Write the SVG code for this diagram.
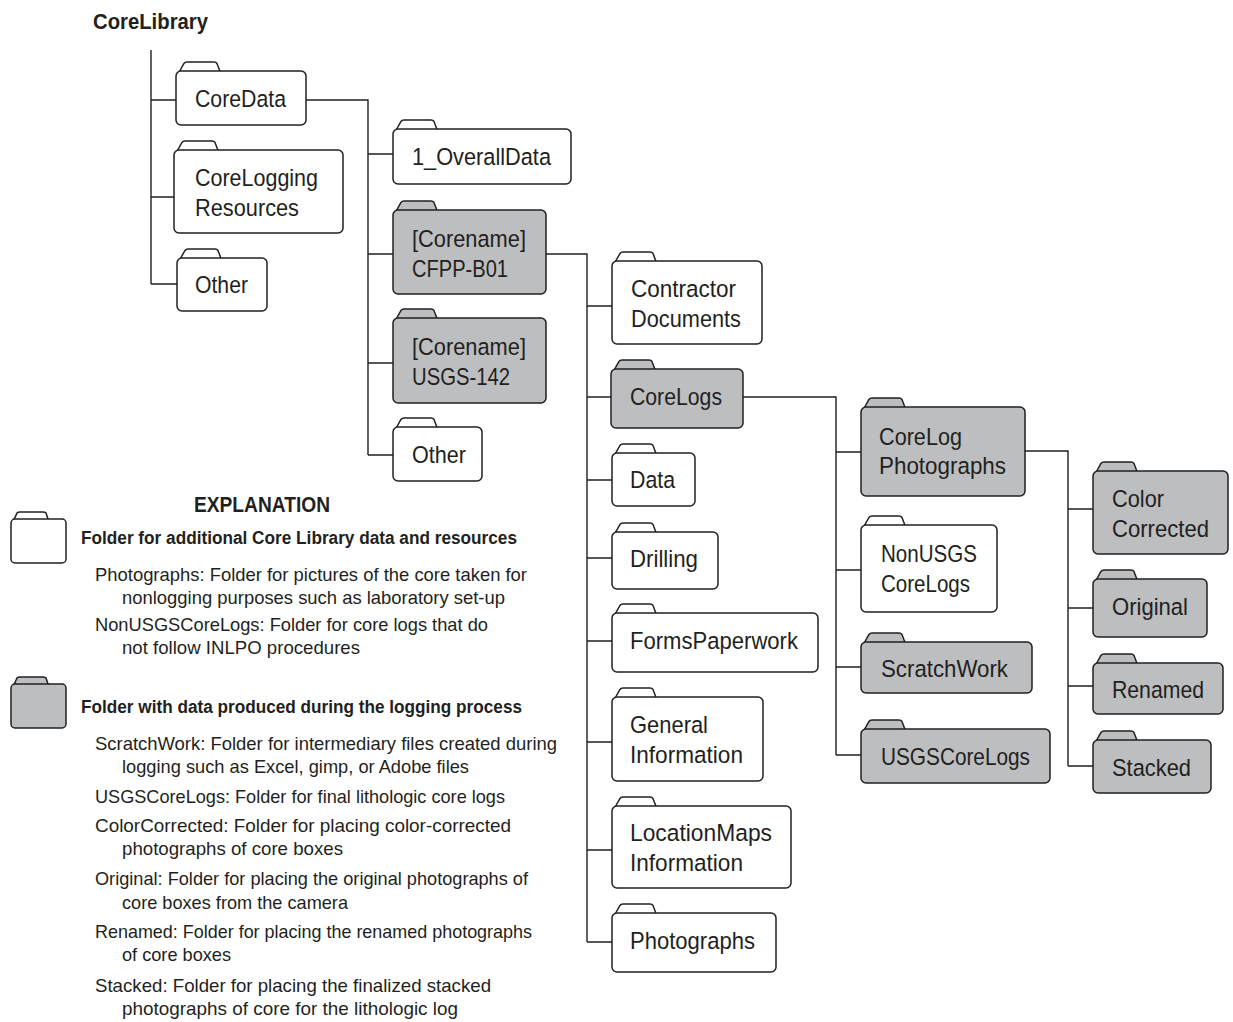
<svg xmlns="http://www.w3.org/2000/svg" xmlns:xlink="http://www.w3.org/1999/xlink" width="1233" height="1022" viewBox="0 0 1233 1022">
  <style>
    .w { fill: #ffffff; stroke: #231f20; stroke-width: 1.5; }
    .g { fill: #bcbec0; stroke: #231f20; stroke-width: 1.5; }
    .lbl { font-family: "Liberation Sans", Arial, sans-serif; font-size: 24.5px; fill: #231f20; }
    .leg { font-family: "Liberation Sans", Arial, sans-serif; font-size: 18.5px; fill: #231f20; }
    .legb { font-family: "Liberation Sans", Arial, sans-serif; font-size: 18px; font-weight: bold; fill: #231f20; }
    .ttl { font-family: "Liberation Sans", Arial, sans-serif; font-size: 22px; font-weight: bold; fill: #231f20; }
    .conn { fill: none; stroke: #231f20; stroke-width: 1.4; }
  </style>
  <defs>
    <!-- folder tab, drawn behind the folder body -->
    <path id="tab" d="M2,3 L8,-7.5 Q9,-9 11,-9 L38,-9 Q40,-9 41,-7.5 L45,3 Z"/>
    <path id="tabS" d="M2,3 L6,-6 Q7,-7 9,-7 L32,-7 Q34,-7 35,-6 L38,3 Z"/>
  </defs>

  <rect x="0" y="0" width="1233" height="1022" fill="#ffffff"/>

  <text class="ttl" x="93" y="29" textLength="115" lengthAdjust="spacingAndGlyphs">CoreLibrary</text>

  <!-- connectors -->
  <g id="connectors" class="conn">
    <path d="M151,50 V284 M151,100 H176 M151,197 H174 M151,284 H177"/>
    <path d="M306,100 H368 V455 M368,154 H393 M368,254 H393 M368,363 H393 M368,455 H393"/>
    <path d="M546,254 H587 V942 M587,306 H612 M587,397 H611 M587,480 H612 M587,558 H612 M587,641 H612 M587,742 H612 M587,850 H612 M587,942 H612"/>
    <path d="M743,397 H836 V755 M836,452 H861 M836,570 H861 M836,667 H861 M836,755 H861"/>
    <path d="M1025,451 H1068 V766 M1068,509 H1093 M1068,608 H1093 M1068,686 H1093 M1068,766 H1093"/>
  </g>

  <!-- level 1 -->
  <g id="n-coredata">
    <use href="#tab" class="w" x="176" y="71"/>
    <rect class="w" x="176" y="71" width="130" height="54" rx="5"/>
    <text class="lbl" x="195" y="107" textLength="91" lengthAdjust="spacingAndGlyphs">CoreData</text>
  </g>
  <g id="n-coreloggingresources">
    <use href="#tab" class="w" x="174" y="150"/>
    <rect class="w" x="174" y="150" width="169" height="83" rx="5"/>
    <text class="lbl" x="195" y="186" textLength="123" lengthAdjust="spacingAndGlyphs">CoreLogging</text>
    <text class="lbl" x="195" y="216" textLength="104" lengthAdjust="spacingAndGlyphs">Resources</text>
  </g>
  <g id="n-other1">
    <use href="#tab" class="w" x="177" y="258"/>
    <rect class="w" x="177" y="258" width="90" height="53" rx="5"/>
    <text class="lbl" x="195" y="293" textLength="53" lengthAdjust="spacingAndGlyphs">Other</text>
  </g>

  <!-- level 2 -->
  <g id="n-overalldata">
    <use href="#tab" class="w" x="393" y="129"/>
    <rect class="w" x="393" y="129" width="178" height="55" rx="5"/>
    <text class="lbl" x="412" y="165" textLength="139" lengthAdjust="spacingAndGlyphs">1_OverallData</text>
  </g>
  <g id="n-cfpp">
    <use href="#tab" class="g" x="393" y="210"/>
    <rect class="g" x="393" y="210" width="153" height="84" rx="5"/>
    <text class="lbl" x="412" y="247" textLength="114" lengthAdjust="spacingAndGlyphs">[Corename]</text>
    <text class="lbl" x="412" y="277" textLength="96" lengthAdjust="spacingAndGlyphs">CFPP-B01</text>
  </g>
  <g id="n-usgs142">
    <use href="#tab" class="g" x="393" y="318"/>
    <rect class="g" x="393" y="318" width="153" height="85" rx="5"/>
    <text class="lbl" x="412" y="355" textLength="114" lengthAdjust="spacingAndGlyphs">[Corename]</text>
    <text class="lbl" x="412" y="385" textLength="98" lengthAdjust="spacingAndGlyphs">USGS-142</text>
  </g>
  <g id="n-other2">
    <use href="#tab" class="w" x="393" y="427"/>
    <rect class="w" x="393" y="427" width="89" height="54" rx="5"/>
    <text class="lbl" x="412" y="463" textLength="54" lengthAdjust="spacingAndGlyphs">Other</text>
  </g>

  <!-- level 3 -->
  <g id="n-contractor">
    <use href="#tab" class="w" x="612" y="261"/>
    <rect class="w" x="612" y="261" width="150" height="83" rx="5"/>
    <text class="lbl" x="631" y="297" textLength="105" lengthAdjust="spacingAndGlyphs">Contractor</text>
    <text class="lbl" x="631" y="327" textLength="110" lengthAdjust="spacingAndGlyphs">Documents</text>
  </g>
  <g id="n-corelogs">
    <use href="#tab" class="g" x="611" y="369"/>
    <rect class="g" x="611" y="369" width="132" height="59" rx="5"/>
    <text class="lbl" x="630" y="405" textLength="92" lengthAdjust="spacingAndGlyphs">CoreLogs</text>
  </g>
  <g id="n-data">
    <use href="#tab" class="w" x="612" y="453"/>
    <rect class="w" x="612" y="453" width="83" height="53" rx="5"/>
    <text class="lbl" x="630" y="488" textLength="45" lengthAdjust="spacingAndGlyphs">Data</text>
  </g>
  <g id="n-drilling">
    <use href="#tab" class="w" x="612" y="532"/>
    <rect class="w" x="612" y="532" width="106" height="57" rx="5"/>
    <text class="lbl" x="630" y="567" textLength="68" lengthAdjust="spacingAndGlyphs">Drilling</text>
  </g>
  <g id="n-formspaperwork">
    <use href="#tab" class="w" x="612" y="613"/>
    <rect class="w" x="612" y="613" width="206" height="59" rx="5"/>
    <text class="lbl" x="630" y="649" textLength="168" lengthAdjust="spacingAndGlyphs">FormsPaperwork</text>
  </g>
  <g id="n-generalinformation">
    <use href="#tab" class="w" x="612" y="697"/>
    <rect class="w" x="612" y="697" width="151" height="84" rx="5"/>
    <text class="lbl" x="630" y="733" textLength="78" lengthAdjust="spacingAndGlyphs">General</text>
    <text class="lbl" x="630" y="763" textLength="113" lengthAdjust="spacingAndGlyphs">Information</text>
  </g>
  <g id="n-locationmaps">
    <use href="#tab" class="w" x="612" y="806"/>
    <rect class="w" x="612" y="806" width="179" height="82" rx="5"/>
    <text class="lbl" x="630" y="841" textLength="142" lengthAdjust="spacingAndGlyphs">LocationMaps</text>
    <text class="lbl" x="630" y="871" textLength="113" lengthAdjust="spacingAndGlyphs">Information</text>
  </g>
  <g id="n-photographs">
    <use href="#tab" class="w" x="612" y="913"/>
    <rect class="w" x="612" y="913" width="164" height="59" rx="5"/>
    <text class="lbl" x="630" y="949" textLength="125" lengthAdjust="spacingAndGlyphs">Photographs</text>
  </g>

  <!-- level 4 -->
  <g id="n-corelogphotographs">
    <use href="#tab" class="g" x="861" y="407"/>
    <rect class="g" x="861" y="407" width="164" height="89" rx="5"/>
    <text class="lbl" x="879" y="445" textLength="83" lengthAdjust="spacingAndGlyphs">CoreLog</text>
    <text class="lbl" x="879" y="474" textLength="127" lengthAdjust="spacingAndGlyphs">Photographs</text>
  </g>
  <g id="n-nonusgscorelogs">
    <use href="#tab" class="w" x="861" y="525"/>
    <rect class="w" x="861" y="525" width="136" height="87" rx="5"/>
    <text class="lbl" x="881" y="562" textLength="96" lengthAdjust="spacingAndGlyphs">NonUSGS</text>
    <text class="lbl" x="881" y="592" textLength="89" lengthAdjust="spacingAndGlyphs">CoreLogs</text>
  </g>
  <g id="n-scratchwork">
    <use href="#tab" class="g" x="861" y="642"/>
    <rect class="g" x="861" y="642" width="171" height="51" rx="5"/>
    <text class="lbl" x="881" y="677" textLength="127" lengthAdjust="spacingAndGlyphs">ScratchWork</text>
  </g>
  <g id="n-usgscorelogs">
    <use href="#tab" class="g" x="861" y="729"/>
    <rect class="g" x="861" y="729" width="189" height="54" rx="5"/>
    <text class="lbl" x="881" y="765" textLength="149" lengthAdjust="spacingAndGlyphs">USGSCoreLogs</text>
  </g>

  <!-- level 5 -->
  <g id="n-colorcorrected">
    <use href="#tab" class="g" x="1093" y="471"/>
    <rect class="g" x="1093" y="471" width="135" height="83" rx="5"/>
    <text class="lbl" x="1112" y="507" textLength="52" lengthAdjust="spacingAndGlyphs">Color</text>
    <text class="lbl" x="1112" y="537" textLength="97" lengthAdjust="spacingAndGlyphs">Corrected</text>
  </g>
  <g id="n-original">
    <use href="#tab" class="g" x="1093" y="579"/>
    <rect class="g" x="1093" y="579" width="114" height="58" rx="5"/>
    <text class="lbl" x="1112" y="615" textLength="76" lengthAdjust="spacingAndGlyphs">Original</text>
  </g>
  <g id="n-renamed">
    <use href="#tab" class="g" x="1093" y="663"/>
    <rect class="g" x="1093" y="663" width="130" height="51" rx="5"/>
    <text class="lbl" x="1112" y="698" textLength="92" lengthAdjust="spacingAndGlyphs">Renamed</text>
  </g>
  <g id="n-stacked">
    <use href="#tab" class="g" x="1093" y="740"/>
    <rect class="g" x="1093" y="740" width="118" height="53" rx="5"/>
    <text class="lbl" x="1112" y="776" textLength="79" lengthAdjust="spacingAndGlyphs">Stacked</text>
  </g>

  <!-- explanation / legend -->
  <g id="legend">
    <text class="ttl" x="194" y="512" font-size="21" textLength="136" lengthAdjust="spacingAndGlyphs">EXPLANATION</text>

    <use href="#tabS" class="w" x="11" y="519"/>
    <rect class="w" x="11" y="519" width="55" height="44" rx="4"/>
    <text class="legb" x="81" y="544" textLength="436" lengthAdjust="spacingAndGlyphs">Folder for additional Core Library data and resources</text>
    <text class="leg" x="95" y="581" textLength="432" lengthAdjust="spacingAndGlyphs">Photographs: Folder for pictures of the core taken for</text>
    <text class="leg" x="122" y="604" textLength="383" lengthAdjust="spacingAndGlyphs">nonlogging purposes such as laboratory set-up</text>
    <text class="leg" x="95" y="631" textLength="393" lengthAdjust="spacingAndGlyphs">NonUSGSCoreLogs: Folder for core logs that do</text>
    <text class="leg" x="122" y="654" textLength="238" lengthAdjust="spacingAndGlyphs">not follow INLPO procedures</text>

    <use href="#tabS" class="g" x="11" y="684"/>
    <rect class="g" x="11" y="684" width="55" height="44" rx="4"/>
    <text class="legb" x="81" y="713" textLength="441" lengthAdjust="spacingAndGlyphs">Folder with data produced during the logging process</text>
    <text class="leg" x="95" y="750" textLength="462" lengthAdjust="spacingAndGlyphs">ScratchWork: Folder for intermediary files created during</text>
    <text class="leg" x="122" y="773" textLength="347" lengthAdjust="spacingAndGlyphs">logging such as Excel, gimp, or Adobe files</text>
    <text class="leg" x="95" y="803" textLength="410" lengthAdjust="spacingAndGlyphs">USGSCoreLogs: Folder for final lithologic core logs</text>
    <text class="leg" x="95" y="832" textLength="416" lengthAdjust="spacingAndGlyphs">ColorCorrected: Folder for placing color-corrected</text>
    <text class="leg" x="122" y="855" textLength="221" lengthAdjust="spacingAndGlyphs">photographs of core boxes</text>
    <text class="leg" x="95" y="885" textLength="433" lengthAdjust="spacingAndGlyphs">Original: Folder for placing the original photographs of</text>
    <text class="leg" x="122" y="909" textLength="226" lengthAdjust="spacingAndGlyphs">core boxes from the camera</text>
    <text class="leg" x="95" y="938" textLength="437" lengthAdjust="spacingAndGlyphs">Renamed: Folder for placing the renamed photographs</text>
    <text class="leg" x="122" y="961" textLength="109" lengthAdjust="spacingAndGlyphs">of core boxes</text>
    <text class="leg" x="95" y="992" textLength="396" lengthAdjust="spacingAndGlyphs">Stacked: Folder for placing the finalized stacked</text>
    <text class="leg" x="122" y="1015" textLength="336" lengthAdjust="spacingAndGlyphs">photographs of core for the lithologic log</text>
  </g>
</svg>
